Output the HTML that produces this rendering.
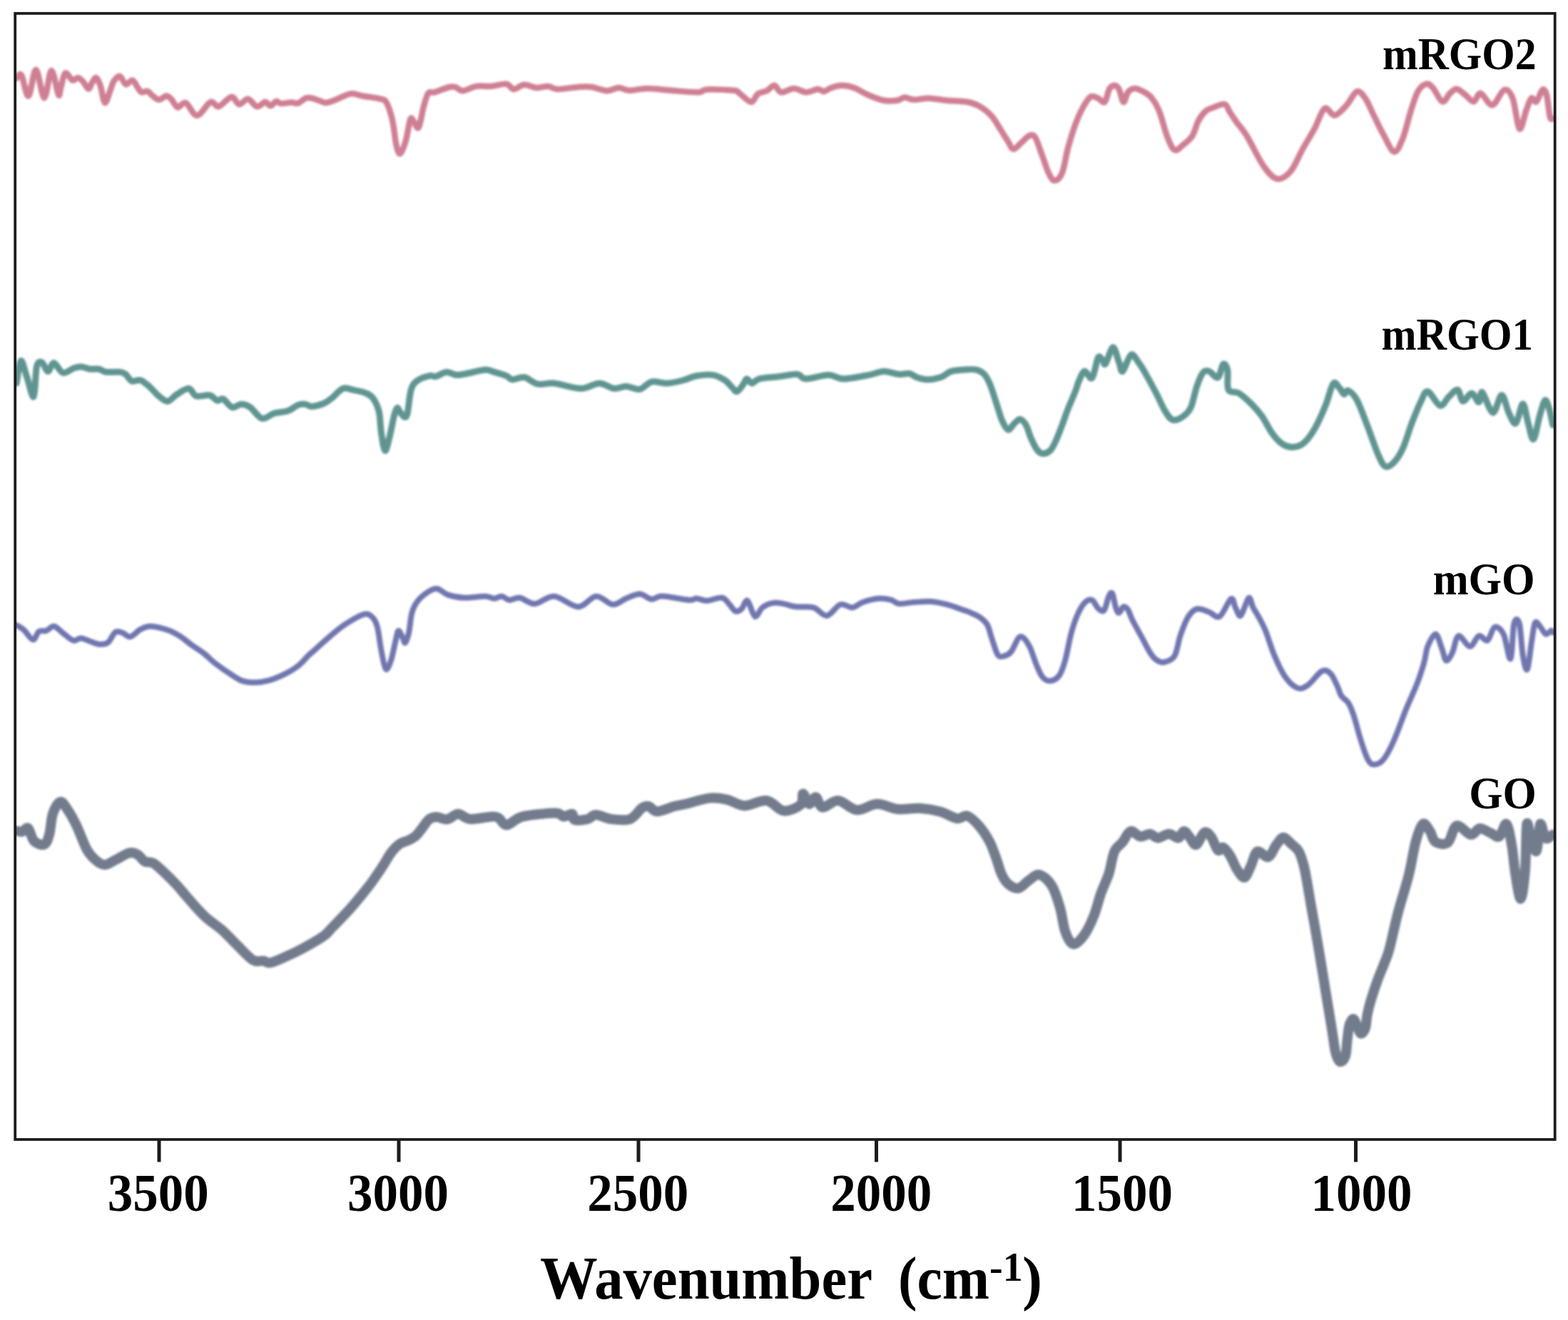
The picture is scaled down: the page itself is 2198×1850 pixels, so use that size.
<!DOCTYPE html><html><head><meta charset="utf-8"><style>
html,body{margin:0;padding:0;background:#fff;}body{width:2198px;height:1850px;overflow:hidden;}
svg{display:block;}text{font-family:"Liberation Serif",serif;font-weight:bold;fill:#000;}
</style></head><body>
<svg width="2198" height="1850" viewBox="0 0 2198 1850">
<defs><filter id="bl" x="-5%" y="-5%" width="110%" height="110%"><feGaussianBlur stdDeviation="1.4"/></filter><filter id="bt" x="0" y="0" width="100%" height="100%" filterUnits="userSpaceOnUse"><feGaussianBlur stdDeviation="0.55"/></filter></defs>
<clipPath id="cp"><rect x="21.2" y="18.8" width="2158.5" height="1578.2"/></clipPath>
<g clip-path="url(#cp)"><g filter="url(#bl)">
<path d="M23.0,110.0 C24.2,109.2 27.2,101.1 30.0,105.2 C32.8,109.3 36.5,135.8 39.9,134.6 C43.3,133.4 46.7,97.4 50.4,97.8 C54.1,98.2 58.4,137.0 62.0,137.2 C65.6,137.4 68.7,99.7 72.0,98.9 C75.3,98.1 79.7,128.3 81.9,132.5 C84.1,136.7 83.4,129.0 85.0,124.0 C86.6,119.0 88.6,104.5 91.4,102.6 C94.2,100.7 98.9,111.5 101.9,112.5 C104.9,113.5 106.8,108.6 109.2,108.9 C111.7,109.2 114.1,112.0 116.6,114.6 C119.0,117.2 121.8,124.4 123.9,124.6 C126.0,124.8 127.4,118.3 129.2,115.7 C131.0,113.1 133.0,108.2 134.9,108.9 C136.8,109.6 138.7,114.1 140.7,119.9 C142.7,125.8 144.7,142.8 147.0,144.0 C149.3,145.2 152.3,132.3 154.4,127.2 C156.5,122.1 157.3,117.0 159.6,113.6 C161.9,110.2 165.2,106.0 168.0,106.8 C170.8,107.6 173.4,117.3 176.4,118.3 C179.4,119.2 183.0,111.7 185.8,112.5 C188.6,113.3 191.1,120.2 193.2,123.0 C195.3,125.8 196.1,128.5 198.4,129.3 C200.7,130.1 204.4,127.1 206.8,127.8 C209.2,128.5 210.5,131.5 213.1,133.5 C215.7,135.5 219.3,139.6 222.6,139.8 C225.9,140.0 230.2,134.8 233.1,134.6 C236.0,134.4 237.4,136.2 240.0,138.8 C242.6,141.4 245.5,149.5 248.9,150.4 C252.3,151.3 255.8,142.2 260.4,144.1 C264.9,146.0 270.4,162.1 276.2,161.9 C282.0,161.7 290.0,145.1 295.1,143.0 C300.2,140.9 301.7,150.5 306.6,149.3 C311.5,148.1 319.8,136.2 324.5,135.7 C329.2,135.2 331.1,145.7 335.0,146.2 C338.9,146.7 343.4,138.3 347.6,138.8 C351.8,139.3 356.2,148.6 360.2,149.3 C364.2,150.0 368.5,143.2 371.7,143.0 C374.9,142.8 376.5,148.5 379.1,148.3 C381.7,148.1 385.0,142.5 387.4,142.0 C389.8,141.5 390.2,144.8 393.7,145.1 C397.2,145.4 404.4,143.7 408.4,143.6 C412.4,143.5 414.4,145.6 417.9,144.6 C421.4,143.6 425.7,138.4 429.4,137.3 C433.1,136.2 436.5,137.5 439.9,138.3 C443.3,139.1 447.2,141.1 450.0,142.0 C452.8,142.9 453.6,144.2 456.7,144.0 C459.8,143.8 462.5,142.9 468.3,140.8 C474.1,138.7 484.8,132.5 491.4,131.4 C498.0,130.3 501.2,133.3 508.2,134.5 C515.2,135.7 527.8,137.1 533.4,138.7 C539.0,140.3 539.0,138.9 541.8,144.0 C544.6,149.1 547.9,159.2 550.2,169.0 C552.5,178.8 553.6,195.0 555.4,202.7 C557.2,210.4 558.7,216.3 561.0,215.3 C563.3,214.3 566.6,204.6 569.0,196.5 C571.4,188.4 573.4,171.2 575.3,167.0 C577.2,162.8 578.7,169.4 580.6,171.3 C582.5,173.2 584.6,182.4 586.9,178.6 C589.2,174.8 591.9,156.2 594.2,148.2 C596.5,140.1 598.0,133.5 600.5,130.3 C603.0,127.2 604.1,130.7 609.0,129.3 C613.9,127.9 625.1,123.2 630.0,122.0 C634.9,120.8 635.2,121.1 638.3,122.0 C641.4,122.9 643.9,127.4 648.8,127.2 C653.7,127.0 661.1,122.0 667.7,120.9 C674.4,119.9 681.7,121.4 688.7,120.9 C695.7,120.4 704.5,117.0 709.7,117.7 C715.0,118.4 716.0,124.8 720.2,125.0 C724.4,125.2 729.6,119.1 734.9,118.8 C740.1,118.5 746.1,122.7 751.7,123.0 C757.3,123.3 763.6,120.6 768.5,120.9 C773.4,121.2 774.0,124.8 781.0,125.0 C788.0,125.2 802.4,122.5 810.5,122.0 C818.6,121.5 822.7,121.1 829.4,122.0 C836.1,122.9 844.2,127.0 850.5,127.2 C856.8,127.4 862.0,123.1 867.3,123.0 C872.5,122.9 875.4,126.6 882.0,126.8 C888.6,127.0 897.4,124.0 907.2,124.0 C917.0,124.0 928.9,125.9 940.8,126.8 C952.7,127.7 970.1,129.5 978.5,129.3 C986.9,129.1 982.6,125.9 991.0,125.5 C999.4,125.1 1021.3,125.8 1029.0,126.8 C1036.7,127.8 1033.3,128.7 1037.3,131.4 C1041.3,134.1 1048.8,143.0 1053.0,143.0 C1057.2,143.0 1058.8,134.0 1062.5,131.4 C1066.2,128.8 1071.2,129.1 1075.0,127.2 C1078.8,125.3 1082.3,119.4 1085.6,119.8 C1088.9,120.2 1090.4,128.6 1095.0,129.3 C1099.6,130.0 1107.2,124.0 1113.0,124.0 C1118.8,124.0 1124.1,129.1 1129.7,129.3 C1135.3,129.5 1142.3,125.2 1146.5,125.0 C1150.7,124.8 1151.8,128.5 1155.0,128.2 C1158.2,127.9 1161.2,124.4 1165.4,123.0 C1169.6,121.6 1174.8,119.8 1180.0,119.8 C1185.2,119.8 1190.6,120.7 1196.9,123.0 C1203.2,125.3 1210.9,130.5 1217.9,133.5 C1224.9,136.5 1232.2,139.6 1238.9,140.8 C1245.6,142.0 1252.9,141.5 1257.8,140.8 C1262.7,140.1 1264.3,136.8 1268.2,136.6 C1272.1,136.4 1275.4,139.6 1281.0,139.8 C1286.6,140.0 1294.3,137.5 1302.0,137.7 C1309.7,137.9 1318.1,139.9 1327.2,140.8 C1336.3,141.7 1348.9,141.6 1356.6,143.0 C1364.3,144.4 1367.8,145.9 1373.4,149.2 C1379.0,152.5 1385.3,157.5 1390.2,162.9 C1395.1,168.3 1398.9,175.9 1402.7,181.8 C1406.5,187.7 1410.2,194.0 1413.2,198.5 C1416.2,203.0 1417.4,208.8 1420.6,209.0 C1423.8,209.2 1428.4,202.7 1432.1,199.6 C1435.8,196.5 1439.4,191.4 1442.6,190.2 C1445.8,189.0 1447.8,187.4 1451.0,192.3 C1454.2,197.2 1458.3,211.1 1461.5,219.5 C1464.7,227.9 1467.2,237.0 1470.0,242.6 C1472.8,248.2 1475.2,253.1 1478.3,253.1 C1481.4,253.1 1485.6,250.3 1488.8,242.6 C1492.0,234.9 1494.0,218.5 1497.2,207.0 C1500.4,195.5 1504.2,182.8 1507.7,173.4 C1511.2,164.0 1514.7,156.6 1518.2,150.3 C1521.7,144.0 1525.2,137.7 1528.7,135.6 C1532.2,133.5 1535.9,136.5 1539.2,137.7 C1542.5,138.9 1546.0,145.1 1548.6,143.0 C1551.2,140.9 1552.7,128.9 1555.0,125.0 C1557.3,121.1 1560.0,119.8 1562.3,119.8 C1564.6,119.8 1566.5,121.1 1568.6,125.0 C1570.7,128.9 1572.8,142.3 1574.9,143.0 C1577.0,143.7 1578.6,132.5 1581.2,129.3 C1583.8,126.1 1586.8,124.0 1590.6,124.0 C1594.4,124.0 1600.3,127.0 1604.3,129.3 C1608.3,131.6 1611.3,133.1 1614.8,137.7 C1618.3,142.2 1621.8,147.8 1625.3,156.6 C1628.8,165.3 1632.3,181.3 1635.8,190.2 C1639.3,199.1 1642.4,208.0 1646.3,210.1 C1650.2,212.2 1654.7,206.0 1658.9,202.7 C1663.1,199.4 1668.0,195.8 1671.5,190.2 C1675.0,184.6 1676.8,175.0 1679.9,169.2 C1683.0,163.4 1687.0,158.5 1690.3,155.5 C1693.6,152.5 1695.6,152.6 1700.0,151.0 C1704.4,149.4 1712.6,145.0 1716.6,146.0 C1720.6,147.0 1721.0,152.6 1723.8,156.8 C1726.6,161.0 1729.3,165.5 1733.3,171.0 C1737.2,176.5 1741.2,179.7 1747.5,190.0 C1753.8,200.3 1764.2,222.7 1771.3,232.8 C1778.4,242.9 1784.0,249.5 1790.3,250.7 C1796.6,251.9 1803.3,246.9 1809.3,240.0 C1815.2,233.1 1820.5,218.9 1826.0,209.0 C1831.5,199.1 1837.5,190.1 1842.6,180.6 C1847.7,171.1 1852.1,155.2 1856.8,152.0 C1861.5,148.8 1865.8,162.4 1871.0,161.6 C1876.2,160.8 1882.5,152.9 1887.7,147.3 C1892.9,141.8 1897.7,129.9 1902.0,128.3 C1906.3,126.7 1909.8,132.2 1913.8,137.8 C1917.8,143.4 1921.3,152.9 1925.7,161.6 C1930.1,170.3 1935.2,181.5 1940.0,190.0 C1944.8,198.5 1949.9,211.8 1954.2,212.6 C1958.5,213.4 1962.1,204.5 1966.1,194.8 C1970.1,185.1 1974.4,165.5 1978.0,154.4 C1981.6,143.3 1983.9,134.4 1987.5,128.3 C1991.1,122.2 1995.8,118.4 1999.4,117.6 C2003.0,116.8 2005.2,119.3 2008.9,123.5 C2012.7,127.7 2018.0,141.3 2021.9,142.5 C2025.9,143.7 2029.2,133.7 2032.6,130.7 C2036.0,127.7 2038.5,124.3 2042.1,124.7 C2045.7,125.1 2050.0,130.0 2054.0,133.0 C2058.0,136.0 2062.3,142.9 2065.9,142.5 C2069.5,142.1 2071.1,129.9 2075.4,130.7 C2079.8,131.5 2086.5,148.1 2092.0,147.3 C2097.5,146.5 2103.8,127.6 2108.6,126.0 C2113.3,124.4 2116.9,128.7 2120.5,137.8 C2124.1,146.9 2126.8,177.8 2130.0,180.6 C2133.2,183.4 2136.7,161.5 2139.5,154.4 C2142.3,147.3 2144.3,139.8 2146.7,137.8 C2149.1,135.8 2151.2,144.5 2153.8,142.5 C2156.4,140.5 2159.7,127.6 2162.1,126.0 C2164.5,124.4 2166.2,126.7 2168.0,133.0 C2169.8,139.3 2171.2,158.5 2172.8,164.0 C2174.4,169.5 2176.7,165.7 2177.5,166.0" fill="none" stroke="#cf7f93" stroke-width="8.5" stroke-linejoin="round" stroke-linecap="round"/>
<path d="M23.1,537.2 C24.2,532.0 26.9,507.1 29.4,505.7 C31.8,504.3 34.8,520.4 37.8,528.8 C40.8,537.2 44.9,558.5 47.2,556.0 C49.5,553.5 49.5,522.0 51.4,514.0 C53.3,506.0 56.2,506.7 58.8,507.8 C61.4,508.9 64.4,520.2 67.2,520.4 C70.0,520.6 72.1,508.4 75.6,508.8 C79.1,509.2 83.7,521.3 88.2,522.5 C92.8,523.7 98.7,517.6 102.9,516.2 C107.1,514.8 109.6,513.8 113.4,514.0 C117.2,514.2 121.8,516.7 126.0,517.2 C130.2,517.7 134.8,516.5 138.6,517.2 C142.4,517.9 144.1,520.7 149.0,521.4 C153.9,522.1 163.4,520.9 168.0,521.4 C172.6,521.9 173.5,522.5 176.3,524.6 C179.1,526.7 181.2,532.6 184.7,534.0 C188.2,535.4 193.1,531.6 197.3,533.0 C201.5,534.4 205.8,538.7 210.0,542.4 C214.2,546.1 218.3,551.7 222.5,555.0 C226.7,558.3 230.9,562.8 235.1,562.4 C239.3,562.0 242.8,555.9 247.7,552.9 C252.6,549.9 259.9,544.1 264.5,544.5 C269.1,544.9 270.1,553.4 275.0,555.0 C279.9,556.6 289.0,553.0 293.9,554.0 C298.8,555.0 301.2,560.4 304.4,561.3 C307.5,562.2 309.3,557.6 312.8,559.2 C316.3,560.8 321.2,569.6 325.4,570.8 C329.6,572.0 333.8,566.6 338.0,566.6 C342.2,566.6 345.7,567.5 350.6,570.8 C355.5,574.1 361.8,585.1 367.4,586.5 C373.0,587.9 378.3,581.0 384.2,579.2 C390.1,577.5 397.4,577.9 403.0,576.0 C408.6,574.1 413.6,569.2 417.8,567.6 C422.0,566.0 425.2,566.2 428.4,566.6 C431.6,567.0 432.6,569.9 436.8,569.7 C441.0,569.5 448.7,567.6 453.6,565.5 C458.5,563.4 461.6,560.6 466.2,557.1 C470.8,553.6 476.0,546.2 480.9,544.5 C485.8,542.8 490.4,545.6 495.6,546.6 C500.9,547.6 507.8,548.9 512.4,550.8 C516.9,552.7 519.8,553.8 522.9,558.2 C526.0,562.6 529.4,569.1 531.3,577.1 C533.2,585.1 533.0,597.4 534.4,606.5 C535.8,615.6 537.8,630.6 539.7,631.6 C541.6,632.6 543.9,620.8 546.0,612.8 C548.1,604.8 550.5,590.2 552.3,583.4 C554.0,576.6 555.1,572.8 556.5,571.8 C557.9,570.8 558.9,575.0 560.6,577.1 C562.4,579.2 565.2,584.0 567.0,584.4 C568.8,584.8 569.5,585.7 571.1,579.2 C572.7,572.7 574.0,553.3 576.4,545.6 C578.8,537.9 581.4,536.1 585.8,533.0 C590.2,529.9 598.4,527.6 602.6,526.7 C606.8,525.8 607.1,528.6 611.0,527.7 C614.9,526.8 620.8,521.8 625.7,521.4 C630.6,521.0 634.8,525.4 640.4,525.6 C646.0,525.8 652.6,523.7 659.3,522.5 C665.9,521.3 674.7,518.5 680.3,518.3 C685.9,518.1 688.0,520.0 692.9,521.4 C697.8,522.8 705.5,525.0 709.7,526.7 C713.9,528.5 713.9,531.5 718.1,531.9 C722.3,532.2 729.0,527.8 734.9,528.8 C740.8,529.8 746.8,536.8 753.8,538.2 C760.8,539.6 766.8,536.2 776.9,537.2 C787.0,538.2 804.2,544.5 814.7,544.5 C825.2,544.5 832.2,537.2 839.9,537.2 C847.6,537.2 854.7,543.8 861.0,544.5 C867.3,545.2 871.8,541.2 877.8,541.4 C883.8,541.6 890.8,546.6 896.7,545.6 C902.7,544.6 907.2,536.5 913.5,535.1 C919.8,533.7 927.1,537.6 934.5,537.2 C941.9,536.9 950.6,534.8 957.6,533.0 C964.6,531.2 969.5,527.9 976.5,526.7 C983.5,525.5 992.9,524.6 999.5,525.6 C1006.1,526.6 1011.8,530.0 1016.3,533.0 C1020.8,536.0 1024.0,540.9 1026.8,543.5 C1029.6,546.1 1030.6,549.4 1033.1,548.7 C1035.5,548.0 1039.2,542.3 1041.5,539.3 C1043.8,536.3 1044.7,531.2 1046.8,530.9 C1048.9,530.5 1051.1,537.2 1054.1,537.2 C1057.1,537.2 1058.3,532.5 1064.6,530.9 C1070.9,529.3 1083.2,528.8 1091.9,527.7 C1100.7,526.7 1110.8,524.1 1117.1,524.6 C1123.4,525.1 1122.3,530.7 1129.7,530.9 C1137.1,531.1 1152.5,525.6 1161.2,525.6 C1170.0,525.6 1172.8,530.9 1182.2,530.9 C1191.7,530.9 1208.5,527.4 1217.9,525.6 C1227.4,523.9 1231.9,520.6 1238.9,520.4 C1245.9,520.2 1253.9,524.1 1259.9,524.6 C1265.9,525.1 1270.5,522.8 1274.7,523.5 C1278.9,524.2 1281.0,527.4 1285.2,528.8 C1289.4,530.2 1294.3,531.9 1299.9,531.9 C1305.5,531.9 1313.2,530.7 1318.8,528.8 C1324.4,526.9 1327.5,522.2 1333.5,520.4 C1339.5,518.6 1348.5,518.2 1354.5,517.9 C1360.5,517.5 1365.0,517.2 1369.2,518.3 C1373.4,519.4 1376.6,521.1 1379.7,524.6 C1382.8,528.1 1385.2,532.6 1388.0,539.3 C1390.8,545.9 1393.7,556.1 1396.5,564.5 C1399.3,572.9 1402.0,583.4 1404.8,589.7 C1407.6,596.0 1410.4,601.6 1413.2,602.3 C1416.0,603.0 1418.8,596.3 1421.6,593.9 C1424.4,591.5 1427.2,587.2 1430.0,587.6 C1432.8,588.0 1436.0,591.8 1438.4,596.0 C1440.9,600.2 1442.2,607.2 1444.7,612.8 C1447.2,618.4 1450.3,625.7 1453.1,629.5 C1455.9,633.3 1458.3,635.4 1461.5,635.8 C1464.7,636.1 1468.8,634.7 1472.0,631.6 C1475.2,628.5 1477.6,622.9 1480.4,617.0 C1483.2,611.1 1486.0,603.4 1488.8,596.0 C1491.6,588.6 1494.0,580.9 1497.2,572.9 C1500.4,564.9 1505.2,554.0 1507.7,547.7 C1510.2,541.4 1509.8,539.7 1511.9,535.1 C1514.0,530.5 1517.2,521.3 1520.3,520.4 C1523.4,519.5 1527.6,532.9 1530.8,529.8 C1534.0,526.6 1536.8,505.7 1539.2,501.5 C1541.7,497.3 1543.8,503.2 1545.5,504.6 C1547.2,506.0 1547.2,512.9 1549.7,509.9 C1552.2,506.9 1557.1,487.1 1560.2,486.8 C1563.3,486.5 1566.3,502.2 1568.6,507.8 C1570.9,513.4 1571.0,522.1 1573.8,520.4 C1576.6,518.6 1581.7,499.4 1585.4,497.3 C1589.1,495.2 1592.4,503.2 1595.9,507.8 C1599.4,512.4 1602.2,517.2 1606.4,524.6 C1610.6,532.0 1616.5,543.2 1621.1,551.9 C1625.6,560.6 1629.8,570.9 1633.7,577.0 C1637.6,583.1 1640.0,587.5 1644.2,588.6 C1648.4,589.7 1654.7,586.4 1658.9,583.4 C1663.1,580.4 1666.3,577.8 1669.4,570.8 C1672.5,563.8 1674.9,549.4 1677.7,541.4 C1680.5,533.4 1683.4,526.0 1686.2,522.5 C1689.0,519.0 1691.3,519.2 1694.8,520.3 C1698.3,521.4 1703.9,530.6 1707.2,529.0 C1710.5,527.4 1712.3,512.1 1714.6,510.4 C1716.9,508.7 1719.6,513.0 1720.8,519.0 C1722.0,525.0 1719.3,540.9 1722.0,546.3 C1724.7,551.7 1731.5,547.9 1736.8,551.2 C1742.1,554.5 1748.7,560.6 1754.1,566.0 C1759.5,571.4 1764.0,576.3 1769.0,583.3 C1774.0,590.3 1778.9,601.4 1783.8,608.0 C1788.7,614.6 1793.6,619.8 1798.6,622.9 C1803.5,626.0 1808.5,627.0 1813.5,626.6 C1818.5,626.2 1823.4,624.7 1828.3,620.4 C1833.2,616.1 1838.1,609.2 1843.1,600.6 C1848.0,592.0 1853.7,579.0 1858.0,568.5 C1862.3,558.0 1865.7,541.7 1869.0,537.6 C1872.3,533.5 1875.2,541.3 1877.7,543.8 C1880.2,546.3 1881.9,551.8 1883.9,552.4 C1886.0,553.0 1886.9,546.0 1890.0,547.5 C1893.1,549.0 1897.9,552.6 1902.4,561.1 C1907.0,569.6 1912.3,585.4 1917.3,598.2 C1922.2,611.0 1928.0,628.4 1932.1,637.7 C1936.2,647.0 1938.3,652.1 1942.0,653.8 C1945.7,655.4 1950.2,651.9 1954.3,647.6 C1958.4,643.3 1962.6,636.9 1966.7,627.8 C1970.8,618.7 1974.9,603.9 1979.0,593.2 C1983.1,582.5 1987.7,571.0 1991.4,563.6 C1995.1,556.2 1996.8,547.9 2001.3,548.7 C2005.8,549.5 2013.7,567.2 2018.6,568.5 C2023.5,569.8 2026.8,559.9 2030.9,556.2 C2035.0,552.5 2040.0,545.3 2043.3,546.3 C2046.6,547.3 2047.4,561.5 2050.7,562.3 C2054.0,563.1 2059.3,551.0 2063.0,551.2 C2066.7,551.4 2070.5,563.8 2073.0,563.6 C2075.5,563.4 2074.6,547.5 2077.9,550.0 C2081.2,552.5 2088.2,577.8 2092.7,578.4 C2097.2,579.0 2101.3,553.7 2105.0,553.7 C2108.7,553.7 2111.7,571.8 2115.0,578.4 C2118.3,585.0 2121.6,595.3 2124.9,593.2 C2128.2,591.1 2131.8,566.0 2134.7,566.0 C2137.6,566.0 2139.7,585.0 2142.2,593.2 C2144.7,601.5 2146.9,617.1 2149.6,615.5 C2152.3,613.9 2155.5,592.4 2158.2,583.3 C2160.9,574.2 2163.3,562.7 2165.6,561.1 C2167.9,559.5 2170.0,567.7 2171.8,573.5 C2173.7,579.3 2175.9,592.0 2176.7,595.7" fill="none" stroke="#5f9491" stroke-width="9" stroke-linejoin="round" stroke-linecap="round"/>
<path d="M22.0,875.6 C23.9,876.8 29.6,879.5 33.6,883.0 C37.6,886.5 42.7,896.3 46.2,896.6 C49.7,896.9 51.5,887.1 54.6,885.0 C57.7,882.9 61.5,885.2 65.0,884.0 C68.5,882.8 71.7,877.2 75.6,877.7 C79.5,878.2 83.7,883.9 88.2,887.2 C92.8,890.5 98.7,896.5 102.9,897.7 C107.1,898.9 109.6,894.3 113.4,894.5 C117.2,894.7 121.8,897.3 126.0,898.7 C130.2,900.1 134.4,902.5 138.6,902.9 C142.8,903.2 147.3,903.6 151.1,900.8 C154.9,898.0 158.1,888.4 161.6,886.1 C165.1,883.8 168.6,886.2 172.1,887.2 C175.6,888.2 178.4,893.3 182.6,892.4 C186.8,891.5 192.6,884.3 197.3,881.9 C202.0,879.5 204.7,877.5 211.0,877.7 C217.3,877.9 228.3,880.7 235.1,883.0 C241.9,885.3 246.3,887.9 251.9,891.4 C257.5,894.9 263.1,900.0 268.7,904.0 C274.3,908.0 279.9,911.1 285.5,915.5 C291.1,919.9 296.0,925.3 302.3,930.2 C308.6,935.1 317.0,940.9 323.3,944.9 C329.6,948.9 334.4,952.5 340.0,954.4 C345.6,956.3 350.6,956.7 356.9,956.5 C363.2,956.3 370.9,955.2 377.9,953.3 C384.9,951.4 392.2,948.2 398.9,944.9 C405.5,941.6 412.2,937.8 417.8,933.4 C423.4,929.0 428.7,922.3 432.4,918.7 C436.1,915.1 435.1,916.4 440.0,912.0 C444.9,907.6 454.8,898.5 462.0,892.4 C469.2,886.3 474.9,880.9 483.0,875.6 C491.1,870.4 503.7,862.5 510.3,860.9 C517.0,859.3 519.8,863.0 522.9,866.1 C526.0,869.2 527.3,872.3 529.2,879.8 C531.1,887.3 532.5,901.7 534.4,911.3 C536.3,920.9 538.4,935.0 540.7,937.5 C543.0,940.0 545.7,932.5 548.0,926.0 C550.3,919.5 552.6,905.7 554.4,898.7 C556.2,891.7 556.9,884.7 558.6,884.0 C560.3,883.3 563.2,891.7 564.8,894.5 C566.4,897.3 566.6,902.2 568.0,900.8 C569.4,899.4 571.6,893.1 573.2,886.1 C574.8,879.1 575.3,866.1 577.4,858.8 C579.5,851.4 581.9,846.9 585.8,842.0 C589.6,837.1 596.0,832.2 600.5,829.4 C605.0,826.6 608.6,824.5 613.1,825.2 C617.6,825.9 621.5,831.5 627.8,833.6 C634.1,835.7 642.1,837.4 650.9,837.8 C659.6,838.1 673.3,835.5 680.3,835.7 C687.3,835.9 689.0,838.8 692.9,838.8 C696.8,838.8 699.9,835.3 703.4,835.7 C706.9,836.1 709.7,840.6 713.9,841.0 C718.1,841.4 722.6,836.9 728.6,837.8 C734.6,838.7 741.6,846.6 749.6,846.2 C757.6,845.9 766.8,835.0 776.9,835.7 C787.0,836.4 800.7,850.4 810.5,850.4 C820.3,850.4 827.6,836.2 835.7,835.7 C843.8,835.2 851.9,846.7 858.9,847.2 C865.9,847.7 871.5,841.2 877.8,838.8 C884.1,836.3 890.8,832.3 896.7,832.5 C902.7,832.7 908.2,839.3 913.5,839.8 C918.8,840.3 919.5,835.4 928.2,835.6 C937.0,835.8 958.0,840.4 966.0,840.9 C974.0,841.4 972.3,838.6 976.5,838.8 C980.7,839.0 985.2,842.1 991.1,841.9 C997.0,841.7 1006.9,836.8 1012.1,837.7 C1017.4,838.6 1019.5,844.1 1022.6,847.2 C1025.8,850.4 1028.2,855.6 1031.0,856.6 C1033.8,857.6 1036.6,856.0 1039.4,853.5 C1042.2,851.0 1044.7,840.1 1047.8,841.9 C1050.9,843.6 1054.8,862.4 1058.3,864.0 C1061.8,865.6 1064.6,854.5 1068.8,851.4 C1073.0,848.2 1078.6,846.0 1083.5,845.1 C1088.4,844.2 1093.0,845.2 1098.2,846.1 C1103.5,847.0 1108.0,849.4 1115.0,850.3 C1122.0,851.2 1132.9,849.3 1140.2,851.4 C1147.5,853.5 1152.8,863.6 1159.1,862.9 C1165.4,862.2 1172.0,849.1 1178.0,847.2 C1184.0,845.3 1189.5,851.9 1194.8,851.4 C1200.0,850.9 1203.2,846.1 1209.5,844.0 C1215.8,841.9 1225.9,839.3 1232.6,838.8 C1239.2,838.3 1244.9,839.7 1249.4,840.9 C1254.0,842.1 1254.6,845.6 1259.9,846.1 C1265.2,846.6 1273.6,844.6 1281.0,844.1 C1288.4,843.6 1296.4,842.5 1304.1,843.0 C1311.8,843.5 1319.2,845.1 1327.2,847.2 C1335.2,849.3 1346.8,853.7 1352.4,855.6 C1358.0,857.5 1357.3,857.2 1360.8,858.8 C1364.3,860.4 1369.6,862.3 1373.4,865.1 C1377.2,867.9 1381.1,870.7 1383.9,875.6 C1386.7,880.5 1387.8,887.5 1390.2,894.5 C1392.7,901.5 1395.8,913.4 1398.6,917.6 C1401.4,921.8 1403.9,920.4 1407.0,919.7 C1410.1,919.0 1413.6,918.0 1417.4,913.4 C1421.2,908.8 1425.8,893.8 1430.0,892.4 C1434.2,891.0 1438.8,898.4 1442.6,905.0 C1446.4,911.6 1449.9,925.0 1453.1,932.3 C1456.2,939.6 1458.3,945.3 1461.5,949.0 C1464.7,952.7 1468.2,954.6 1472.0,954.3 C1475.8,954.0 1481.1,951.7 1484.6,947.0 C1488.1,942.3 1490.2,935.8 1493.0,926.0 C1495.8,916.2 1498.6,898.7 1501.4,888.2 C1504.2,877.7 1506.7,870.2 1509.8,863.0 C1512.9,855.8 1516.8,848.8 1520.3,845.1 C1523.8,841.4 1527.6,839.8 1530.8,841.0 C1534.0,842.2 1536.4,850.1 1539.2,852.5 C1542.0,854.9 1545.1,858.2 1547.6,855.6 C1550.0,853.0 1552.0,840.7 1553.9,836.7 C1555.8,832.7 1557.3,828.9 1559.1,831.5 C1560.8,834.1 1562.8,848.0 1564.4,852.5 C1566.0,857.0 1566.8,859.1 1568.6,858.8 C1570.3,858.4 1572.8,851.1 1574.9,850.4 C1577.0,849.7 1579.1,851.5 1581.2,854.6 C1583.3,857.8 1584.3,863.0 1587.5,869.3 C1590.7,875.6 1595.9,884.7 1600.1,892.4 C1604.3,900.1 1609.2,910.1 1612.7,915.5 C1616.2,920.9 1617.9,922.8 1621.1,924.9 C1624.2,927.0 1627.4,929.0 1631.6,928.1 C1635.8,927.2 1642.4,926.0 1646.3,919.7 C1650.2,913.4 1651.5,899.4 1654.7,890.3 C1657.9,881.2 1661.4,871.2 1665.2,865.1 C1669.0,859.0 1672.8,854.7 1677.7,853.5 C1682.6,852.3 1689.5,856.0 1694.8,857.8 C1700.1,859.5 1704.5,867.1 1709.7,864.0 C1714.9,860.9 1722.0,841.3 1725.7,839.3 C1729.4,837.2 1729.6,847.8 1731.9,851.7 C1734.2,855.6 1736.2,865.1 1739.3,862.8 C1742.4,860.5 1747.5,840.0 1750.4,838.1 C1753.3,836.2 1754.3,847.4 1756.6,851.7 C1758.9,856.0 1761.1,858.6 1764.0,864.0 C1766.9,869.4 1770.2,874.7 1773.9,883.8 C1777.6,892.9 1781.8,907.7 1786.3,918.4 C1790.8,929.1 1795.8,940.4 1801.1,948.0 C1806.4,955.6 1813.1,962.0 1818.4,964.1 C1823.8,966.2 1827.4,964.3 1833.2,960.4 C1839.0,956.5 1847.6,943.3 1853.0,940.6 C1858.4,937.9 1861.7,940.6 1865.4,944.3 C1869.1,948.0 1872.7,957.8 1875.2,962.9 C1877.7,968.0 1877.7,971.5 1880.2,975.2 C1882.7,978.9 1887.2,980.6 1890.1,985.1 C1893.0,989.6 1894.6,993.8 1897.5,1002.4 C1900.4,1011.0 1904.1,1026.7 1907.4,1037.0 C1910.7,1047.3 1914.2,1058.4 1917.3,1064.2 C1920.4,1070.0 1922.2,1071.6 1925.9,1071.6 C1929.6,1071.6 1934.8,1070.0 1939.5,1064.2 C1944.2,1058.4 1949.0,1049.0 1954.3,1037.0 C1959.6,1025.0 1966.2,1005.7 1971.6,992.5 C1977.0,979.3 1982.4,968.6 1986.5,957.9 C1990.6,947.2 1993.8,936.9 1996.3,928.3 C1998.8,919.6 1998.6,912.6 2001.3,906.0 C2004.0,899.4 2009.1,888.3 2012.4,888.7 C2015.7,889.1 2018.6,902.3 2021.1,908.5 C2023.6,914.7 2024.7,924.8 2027.2,925.8 C2029.7,926.8 2033.0,920.5 2035.9,914.7 C2038.8,908.9 2040.4,892.7 2044.5,891.2 C2048.6,889.8 2055.8,906.0 2060.6,906.0 C2065.3,906.0 2068.9,892.6 2073.0,891.2 C2077.1,889.8 2081.6,899.5 2085.3,897.4 C2089.0,895.3 2091.5,880.3 2095.2,878.9 C2098.9,877.5 2103.9,881.3 2107.6,888.7 C2111.3,896.1 2114.9,925.8 2117.4,923.3 C2119.9,920.8 2120.3,882.1 2122.4,873.9 C2124.5,865.7 2127.8,866.5 2129.8,873.9 C2131.9,881.3 2132.8,907.7 2134.7,918.4 C2136.5,929.1 2138.8,941.5 2140.9,938.2 C2143.0,934.9 2145.2,909.5 2147.1,898.6 C2148.9,887.7 2149.9,876.0 2152.0,872.7 C2154.1,869.4 2157.0,876.2 2159.5,878.9 C2162.0,881.6 2164.4,887.9 2166.9,888.7 C2169.4,889.5 2172.7,884.2 2174.3,883.8 C2175.9,883.4 2176.3,885.9 2176.7,886.3" fill="none" stroke="#7076af" stroke-width="8" stroke-linejoin="round" stroke-linecap="round"/>
<path d="M22.7,1164.4 C24.1,1164.6 28.2,1166.2 31.0,1165.6 C33.8,1165.0 36.6,1158.6 39.4,1160.8 C42.2,1163.0 43.9,1174.9 47.7,1178.7 C51.5,1182.5 58.4,1185.1 62.0,1183.5 C65.6,1181.9 67.2,1176.4 69.2,1169.2 C71.2,1162.0 71.4,1148.1 74.0,1140.6 C76.6,1133.0 81.1,1124.7 84.7,1123.9 C88.3,1123.1 91.6,1130.2 95.4,1135.8 C99.2,1141.4 102.9,1148.2 107.3,1157.3 C111.7,1166.4 117.3,1182.6 121.7,1190.6 C126.1,1198.5 129.4,1201.4 133.6,1205.0 C137.8,1208.6 141.9,1212.1 146.7,1212.1 C151.5,1212.1 156.4,1207.8 162.2,1205.0 C168.0,1202.2 176.1,1196.6 181.3,1195.4 C186.5,1194.2 189.6,1195.8 193.2,1197.8 C196.8,1199.8 199.2,1205.3 202.8,1207.3 C206.4,1209.3 210.3,1207.3 214.7,1209.7 C219.1,1212.1 223.4,1216.5 229.0,1221.7 C234.6,1226.9 242.5,1234.8 248.1,1240.7 C253.7,1246.7 255.8,1250.1 262.4,1257.4 C268.9,1264.7 279.3,1277.1 287.4,1284.7 C295.5,1292.3 303.6,1296.7 311.0,1303.3 C318.4,1309.9 324.9,1317.3 332.1,1324.3 C339.3,1331.3 348.2,1341.7 354.4,1345.4 C360.6,1349.1 365.2,1346.1 369.3,1346.7 C373.4,1347.3 373.4,1350.5 379.2,1349.2 C385.0,1348.0 395.7,1342.9 404.0,1339.2 C412.3,1335.5 420.5,1331.3 428.8,1326.8 C437.1,1322.2 447.5,1316.5 453.7,1311.9 C459.9,1307.4 459.9,1305.9 466.1,1299.5 C472.3,1293.1 482.6,1282.8 490.9,1273.5 C499.2,1264.2 509.7,1251.3 515.7,1243.7 C521.7,1236.1 523.4,1233.2 527.0,1228.0 C530.6,1222.8 533.8,1218.1 537.4,1212.4 C541.0,1206.8 545.1,1199.0 548.9,1194.1 C552.7,1189.1 556.5,1185.4 560.3,1182.7 C564.1,1180.0 568.0,1180.0 571.8,1178.1 C575.6,1176.2 579.8,1174.2 583.2,1171.2 C586.6,1168.2 589.4,1163.6 592.4,1159.8 C595.4,1156.0 598.3,1150.8 601.5,1148.3 C604.7,1145.8 607.6,1144.9 611.8,1144.9 C616.0,1144.9 621.6,1149.0 626.7,1148.3 C631.8,1147.6 636.8,1140.8 642.2,1140.8 C647.6,1140.8 651.0,1147.4 658.9,1148.0 C666.8,1148.6 683.1,1144.6 689.9,1144.4 C696.7,1144.2 696.1,1144.8 699.5,1146.8 C702.9,1148.8 704.6,1156.7 710.2,1156.3 C715.8,1155.9 721.6,1147.2 732.9,1144.4 C744.2,1141.6 768.7,1139.6 778.2,1139.6 C787.7,1139.6 786.1,1144.2 790.1,1144.4 C794.1,1144.6 799.4,1140.0 802.0,1140.8 C804.6,1141.6 802.0,1148.0 805.6,1149.2 C809.2,1150.4 818.5,1149.2 823.5,1148.0 C828.5,1146.8 829.8,1142.0 835.4,1142.0 C841.0,1142.0 848.9,1147.0 856.9,1148.0 C864.9,1149.0 876.1,1150.6 883.2,1148.0 C890.4,1145.4 895.4,1135.5 899.8,1132.5 C904.2,1129.5 905.8,1129.3 909.4,1130.1 C913.0,1130.9 915.3,1137.3 921.3,1137.3 C927.3,1137.3 938.8,1131.8 945.2,1130.1 C951.7,1128.4 951.6,1129.0 960.0,1127.0 C968.4,1125.0 985.9,1119.4 995.8,1118.4 C1005.7,1117.4 1011.6,1119.0 1019.6,1120.8 C1027.5,1122.6 1034.3,1129.0 1043.5,1129.2 C1052.7,1129.4 1065.3,1120.8 1074.5,1122.0 C1083.7,1123.2 1090.5,1135.3 1098.4,1136.3 C1106.4,1137.3 1117.6,1132.0 1122.2,1128.0 C1126.8,1124.0 1123.8,1112.7 1125.8,1112.5 C1127.8,1112.3 1131.1,1126.0 1134.1,1126.8 C1137.1,1127.6 1140.5,1116.5 1143.7,1117.3 C1146.9,1118.1 1148.0,1130.8 1153.2,1131.6 C1158.4,1132.4 1166.8,1121.4 1174.7,1122.0 C1182.7,1122.6 1191.8,1134.3 1200.9,1135.1 C1210.1,1135.9 1220.0,1127.0 1229.6,1126.8 C1239.1,1126.6 1248.3,1133.0 1258.2,1134.0 C1268.1,1135.0 1279.3,1132.2 1289.2,1132.8 C1299.1,1133.4 1309.0,1135.1 1317.8,1137.5 C1326.5,1139.9 1335.3,1146.1 1341.7,1147.1 C1348.1,1148.1 1350.8,1141.7 1356.0,1143.5 C1361.2,1145.3 1367.5,1151.8 1372.7,1157.8 C1377.9,1163.8 1383.0,1171.8 1387.0,1179.3 C1391.0,1186.8 1393.7,1195.5 1396.5,1203.1 C1399.3,1210.6 1400.9,1218.6 1403.7,1224.6 C1406.5,1230.6 1409.2,1235.5 1413.2,1238.9 C1417.2,1242.3 1422.8,1245.7 1427.6,1244.9 C1432.4,1244.1 1437.0,1237.2 1441.9,1234.1 C1446.8,1230.9 1451.8,1224.8 1457.2,1226.0 C1462.6,1227.2 1469.6,1233.6 1474.4,1241.2 C1479.2,1248.8 1482.6,1261.0 1485.8,1271.8 C1489.0,1282.6 1490.2,1297.5 1493.4,1306.1 C1496.6,1314.7 1500.4,1322.7 1504.9,1323.3 C1509.4,1323.9 1515.4,1316.6 1520.2,1309.9 C1525.0,1303.2 1529.7,1292.7 1533.5,1283.2 C1537.3,1273.7 1539.6,1262.6 1543.1,1252.7 C1546.6,1242.8 1551.3,1233.9 1554.5,1224.0 C1557.7,1214.1 1558.9,1200.8 1562.1,1193.5 C1565.3,1186.2 1569.8,1185.0 1573.6,1180.2 C1577.4,1175.4 1580.9,1166.2 1585.0,1164.9 C1589.1,1163.6 1593.9,1171.9 1598.4,1172.5 C1602.9,1173.1 1607.7,1168.4 1611.8,1168.7 C1615.9,1169.0 1618.8,1174.4 1623.2,1174.4 C1627.7,1174.4 1633.7,1168.7 1638.5,1168.7 C1643.3,1168.7 1648.3,1175.0 1651.8,1174.4 C1655.3,1173.8 1657.0,1165.2 1659.5,1164.9 C1662.0,1164.6 1664.2,1169.3 1667.1,1172.5 C1669.9,1175.7 1673.1,1185.0 1676.6,1184.0 C1680.1,1183.0 1684.6,1168.7 1688.1,1166.8 C1691.6,1164.9 1694.4,1168.4 1697.6,1172.5 C1700.8,1176.6 1704.3,1189.0 1707.2,1191.6 C1710.1,1194.1 1711.9,1186.5 1714.8,1187.8 C1717.7,1189.1 1721.2,1194.1 1724.4,1199.2 C1727.6,1204.3 1730.6,1213.2 1733.9,1218.3 C1737.2,1223.4 1741.2,1230.4 1744.4,1229.8 C1747.6,1229.2 1750.0,1220.5 1753.0,1214.5 C1756.0,1208.5 1758.4,1195.7 1762.5,1193.5 C1766.6,1191.3 1773.3,1202.7 1777.8,1201.1 C1782.2,1199.5 1785.7,1188.5 1789.2,1184.0 C1792.8,1179.5 1795.6,1174.0 1799.1,1173.8 C1802.6,1173.6 1806.8,1179.7 1810.4,1182.9 C1814.0,1186.1 1817.8,1188.2 1820.6,1193.1 C1823.4,1198.0 1825.5,1205.4 1827.4,1212.4 C1829.3,1219.4 1830.3,1225.7 1832.0,1235.0 C1833.7,1244.3 1835.8,1257.5 1837.6,1268.0 C1839.4,1278.5 1841.3,1288.2 1843.0,1298.0 C1844.7,1307.8 1846.3,1317.2 1848.0,1327.0 C1849.7,1336.8 1851.3,1346.8 1853.0,1357.0 C1854.7,1367.2 1856.3,1377.8 1858.0,1388.0 C1859.7,1398.2 1861.3,1407.8 1863.0,1418.0 C1864.7,1428.2 1866.4,1439.3 1868.0,1449.0 C1869.6,1458.7 1870.7,1469.5 1872.4,1476.0 C1874.1,1482.5 1876.0,1487.4 1878.2,1488.1 C1880.5,1488.8 1884.1,1485.9 1885.9,1480.4 C1887.7,1474.9 1887.8,1462.7 1888.8,1455.3 C1889.8,1447.9 1890.2,1440.5 1891.7,1436.0 C1893.2,1431.5 1895.6,1427.5 1897.5,1428.3 C1899.4,1429.1 1901.5,1437.4 1903.3,1440.8 C1905.1,1444.2 1906.3,1448.6 1908.1,1448.6 C1909.9,1448.6 1912.5,1445.3 1913.9,1440.8 C1915.3,1436.3 1915.4,1428.0 1916.7,1421.6 C1918.0,1415.2 1919.2,1410.3 1921.6,1402.3 C1924.0,1394.3 1928.0,1382.2 1931.2,1373.4 C1934.4,1364.6 1938.1,1356.5 1940.8,1349.3 C1943.5,1342.1 1944.5,1341.6 1947.6,1330.0 C1950.7,1318.4 1955.1,1296.7 1959.6,1279.5 C1964.1,1262.3 1970.4,1243.7 1974.6,1227.1 C1978.8,1210.5 1981.2,1191.8 1984.5,1179.8 C1987.8,1167.8 1991.2,1157.3 1994.5,1154.8 C1997.8,1152.3 2001.6,1160.6 2004.5,1164.8 C2007.4,1169.0 2007.8,1177.1 2012.0,1179.8 C2016.2,1182.5 2024.4,1184.8 2029.4,1181.0 C2034.4,1177.2 2036.5,1159.2 2041.9,1157.3 C2047.3,1155.4 2056.4,1169.2 2061.8,1169.8 C2067.2,1170.4 2069.7,1161.4 2074.3,1161.0 C2078.9,1160.6 2084.7,1165.4 2089.3,1167.3 C2093.9,1169.2 2098.0,1174.4 2101.7,1172.3 C2105.4,1170.2 2108.8,1152.7 2111.7,1154.8 C2114.6,1156.9 2117.1,1173.1 2119.2,1184.7 C2121.3,1196.3 2122.1,1212.1 2124.2,1224.6 C2126.3,1237.1 2129.4,1260.4 2131.7,1259.6 C2134.0,1258.8 2136.4,1237.2 2137.9,1219.7 C2139.4,1202.2 2139.0,1161.5 2140.4,1154.8 C2141.8,1148.1 2144.3,1173.6 2146.6,1179.8 C2148.9,1186.0 2152.0,1196.4 2154.1,1192.2 C2156.2,1188.0 2157.0,1157.7 2159.1,1154.8 C2161.2,1151.9 2163.7,1172.3 2166.6,1174.8 C2169.5,1177.3 2174.9,1170.6 2176.6,1169.8" fill="none" stroke="#727b8c" stroke-width="14" stroke-linejoin="round" stroke-linecap="round"/>
</g></g>
<g filter="url(#bt)">
<rect x="21.2" y="18.8" width="2158.5" height="1578.2" fill="none" stroke="#1c1c1c" stroke-width="3.8"/>
<line x1="223" y1="1597" x2="223" y2="1628.5" stroke="#1c1c1c" stroke-width="5"/>
<line x1="559" y1="1597" x2="559" y2="1628.5" stroke="#1c1c1c" stroke-width="5"/>
<line x1="895" y1="1597" x2="895" y2="1628.5" stroke="#1c1c1c" stroke-width="5"/>
<line x1="1228.5" y1="1597" x2="1228.5" y2="1628.5" stroke="#1c1c1c" stroke-width="5"/>
<line x1="1570" y1="1597" x2="1570" y2="1628.5" stroke="#1c1c1c" stroke-width="5"/>
<line x1="1900.5" y1="1597" x2="1900.5" y2="1628.5" stroke="#1c1c1c" stroke-width="5"/>
<text x="221.8" y="1697" font-size="74" text-anchor="middle" textLength="142" lengthAdjust="spacingAndGlyphs">3500</text>
<text x="557.9" y="1697" font-size="74" text-anchor="middle" textLength="142" lengthAdjust="spacingAndGlyphs">3000</text>
<text x="894.2" y="1697" font-size="74" text-anchor="middle" textLength="142" lengthAdjust="spacingAndGlyphs">2500</text>
<text x="1235.2" y="1697" font-size="74" text-anchor="middle" textLength="142" lengthAdjust="spacingAndGlyphs">2000</text>
<text x="1572.9" y="1697" font-size="74" text-anchor="middle" textLength="142" lengthAdjust="spacingAndGlyphs">1500</text>
<text x="1908.5" y="1697" font-size="74" text-anchor="middle" textLength="142" lengthAdjust="spacingAndGlyphs">1000</text>
<text x="757" y="1819.5" font-size="84" textLength="466" lengthAdjust="spacingAndGlyphs">Wavenumber</text>
<text x="1259" y="1819.5" font-size="84" textLength="128" lengthAdjust="spacingAndGlyphs">(cm</text>
<text x="1387" y="1794.5" font-size="56">-1</text>
<text x="1433" y="1819.5" font-size="84">)</text>
<text x="1938" y="97.2" font-size="63" textLength="215.5" lengthAdjust="spacingAndGlyphs">mRGO2</text>
<text x="1936.5" y="489.5" font-size="63" textLength="212.5" lengthAdjust="spacingAndGlyphs">mRGO1</text>
<text x="2008.7" y="833" font-size="63" textLength="143" lengthAdjust="spacingAndGlyphs">mGO</text>
<text x="2059.2" y="1132.5" font-size="63" textLength="94.5" lengthAdjust="spacingAndGlyphs">GO</text>
</g>
</svg></body></html>
